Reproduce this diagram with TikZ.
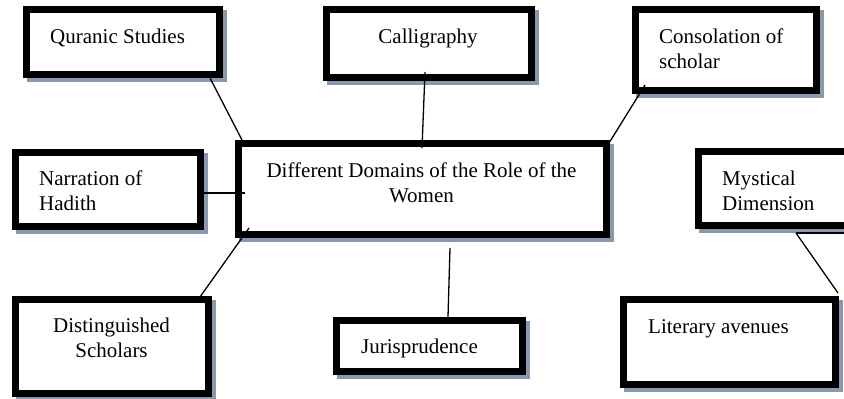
\documentclass[tikz,border=0pt]{standalone}
\usepackage{fontspec}
\setmainfont{Liberation Serif}
\usetikzlibrary{shadows}
\definecolor{shadowgray}{RGB}{138,152,174}

\begin{document}
\begin{tikzpicture}[x=1pt, y=-1pt,
    domainbox/.style={draw, line width=7pt, fill=white, inner sep=0pt, outer sep=0pt,
      drop shadow={shadow xshift=4pt, shadow yshift=-4pt, fill=shadowgray,
        draw=shadowgray, line width=7pt, opacity=1}},
    boxtext/.style={inner sep=0pt, font=\fontsize{21}{25}\selectfont},
    link/.style={line width=1.3pt}]
    \useasboundingbox (0, 0) rectangle (844, 399);

    % boxes
    \node [domainbox, minimum width=193pt, minimum height=65pt] (quran) at (123, 42) {};
    \node [domainbox, minimum width=205pt, minimum height=68pt] (calli) at (429, 43.5) {};
    \node [domainbox, minimum width=181pt, minimum height=81pt] (consol) at (726, 50) {};
    \node [domainbox, minimum width=185pt, minimum height=74pt] (narr) at (108, 189.5) {};
    \node [domainbox, minimum width=368pt, minimum height=91pt] (main) at (422.5, 189) {};
    \node [domainbox, minimum width=158pt, minimum height=74pt] (mystic) at (777.5, 188.5) {};
    \node [domainbox, minimum width=193pt, minimum height=94pt] (dist) at (112, 346.5) {};
    \node [domainbox, minimum width=186pt, minimum height=51pt] (juris) at (429.5, 346) {};
    \node [domainbox, minimum width=212pt, minimum height=85pt] (lit) at (729.5, 342) {};

    % texts (base of the last line)
    \node [boxtext, anchor=base west] (quranlabel) at (50, 43) {Quranic Studies};
    \node [boxtext, anchor=base] (callilabel) at (428, 43) {Calligraphy};
    \node [boxtext, anchor=base west, align=left] (consollabel) at (659, 68) {Consolation of\\scholar};
    \node [boxtext, anchor=base west, align=left] (narrlabel) at (39, 210) {Narration of\\Hadith};
    \node [boxtext, anchor=base, align=center] (mainlabel) at (421.5, 202) {Different Domains of the Role of the\\Women};
    \node [boxtext, anchor=base west, align=left] (mysticlabel) at (722, 210) {Mystical\\Dimension};
    \node [boxtext, anchor=base, align=center] (distlabel) at (111.5, 357) {Distinguished\\Scholars};
    \node [boxtext, anchor=base west] (jurislabel) at (361, 353) {Jurisprudence};
    \node [boxtext, anchor=base west] (litlabel) at (648, 333) {Literary avenues};

    % connectors
    \draw [link] ([xshift=-9.5pt, yshift=-3.5pt]quran.south east) -- ([xshift=3.5pt, yshift=3.5pt]main.north west);
    \draw [link] ([xshift=-4pt, yshift=5.5pt]calli.south) -- ([xshift=-0.5pt, yshift=-4.5pt]main.north);
    \draw [link] ([xshift=9.5pt, yshift=5.5pt]consol.south west) -- ([xshift=2.5pt, yshift=0.5pt]main.north east);
    \draw [link] ([xshift=3.5pt, yshift=-3.5pt]narr.east) -- ([xshift=6.5pt, yshift=-4pt]main.west);
    \draw [link] ([xshift=-8.5pt, yshift=2.5pt]dist.north east) -- ([xshift=10.5pt, yshift=6.5pt]main.south west);
    \draw [link] ([xshift=27.5pt, yshift=-13.5pt]main.south) -- ([xshift=18.5pt, yshift=3.5pt]juris.north);
    \draw [link] ([xshift=97.5pt, yshift=-7.5pt]mystic.south west) -- ([xshift=2.5pt, yshift=6.5pt]lit.north east);
    \coordinate (mysticend) at (850, 233);
    \draw [link] ([xshift=97.5pt, yshift=-7.5pt]mystic.south west) -- (mysticend);

  \end{tikzpicture}
\end{document}
